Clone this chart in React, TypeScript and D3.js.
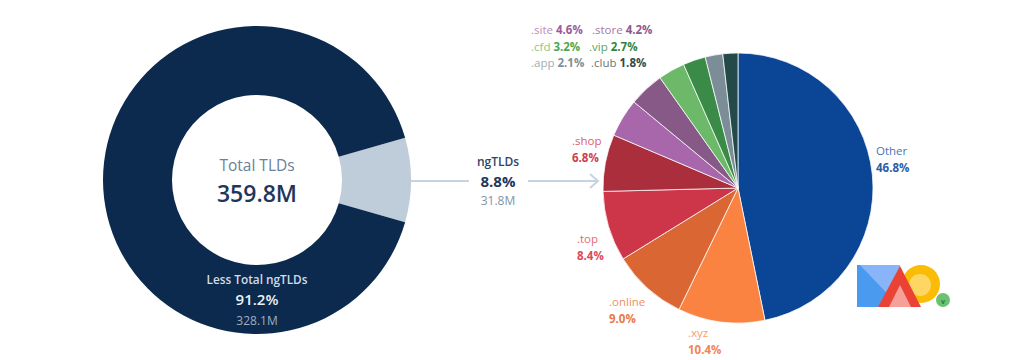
import React from "react";
import * as d3 from "d3";

// ---- Data ----
const totalLabel = "Total TLDs";
const totalValue = "359.8M";
const outerNames = ["ngTLDs", "Less Total ngTLDs"];
const outerValues = [31.8, 328.1];
const outerPercents = ["8.8%", "91.2%"];
const outerValueLabels = ["31.8M", "328.1M"];
const outerColors = ["#bfcdda", "#0c2a4e"];

const tldNames = ["Other", ".xyz", ".online", ".top", ".shop", ".site", ".store", ".cfd", ".vip", ".app", ".club"];
const tldValues = [46.8, 10.4, 9.0, 8.4, 6.8, 4.6, 4.2, 3.2, 2.7, 2.1, 1.8];
const tldColors = ["#0b4595", "#fb8341", "#da6634", "#cd3648", "#ab2e3c", "#a767aa", "#865987", "#6db96a", "#3a8b47", "#7b8d97", "#234a49"];
const tldLabelColors = ["#4a74b8", "#fb9d6c", "#ef9062", "#e36a74", "#d9626a", "#bc8cbd", "#a679a6", "#88c985", "#58a461", "#9eacb5", "#627878"];
const tldPctColors = ["#2c5ca6", "#f7844d", "#e8784a", "#dc4b5a", "#cc3e4b", "#9c5a9e", "#8c5a8c", "#4fa74c", "#2f8440", "#7f8f99", "#2c4c4c"];

// label layout (text positions only)
const pieLabelPos: Record<string, [number, number]> = {
  Other: [876, 150],
  ".xyz": [688, 332],
  ".online": [609, 301],
  ".top": [577, 238],
  ".shop": [572, 140],
};
const legendPos: Record<string, [number, number]> = {
  ".site": [531, 29],
  ".store": [592, 29],
  ".cfd": [531, 46],
  ".vip": [589, 46],
  ".app": [531, 62],
  ".club": [591, 62],
};

const FONT = "'Open Sans', 'Noto Sans', sans-serif";

export default function App() {
  const W = 1024, H = 360;
  // left donut
  const lcx = 257, lcy = 180, lR = 154, lr = 85;
  const total = d3.sum(outerValues);
  const ngFrac = outerValues[0] / total;
  const start = Math.PI / 2 - ngFrac * Math.PI;
  const outerPie = d3.pie<number>().sort(null).value((d) => d).startAngle(start).endAngle(start + 2 * Math.PI);
  const outerArcs = outerPie(outerValues);
  const outerArc = d3.arc<d3.PieArcDatum<number>>().innerRadius(lr).outerRadius(lR);

  // right pie
  const rcx = 738, rcy = 188, rR = 135;
  const pie = d3.pie<number>().sort(null).value((d) => d);
  const arcs = pie(tldValues);
  const arc = d3.arc<d3.PieArcDatum<number>>().innerRadius(0).outerRadius(rR);

  const lineY = 181;

  return (
    <svg width={W} height={H} style={{ display: "block", position: "absolute", left: 0, top: 0, background: "#fff" }} fontFamily={FONT}>
      <rect width={W} height={H} fill="#fff" />
      <g transform={`translate(${lcx},${lcy})`}>
        {outerArcs.map((a, i) => (
          <path key={i} d={outerArc(a) || ""} fill={outerColors[i]} />
        ))}
        <text y={-15} textAnchor="middle" dominantBaseline="central" fontSize={15.5} fill="#6c8098">{totalLabel}</text>
        <text y={13} textAnchor="middle" dominantBaseline="central" fontSize={23} fontWeight={600} fill="#1f375b">{totalValue}</text>
        <text y={99} textAnchor="middle" dominantBaseline="central" fontSize={11.8} fontWeight={600} fill="#d3dbe6">{outerNames[1]}</text>
        <text y={119} textAnchor="middle" dominantBaseline="central" fontSize={15} fontWeight={600} fill="#eef2f7">{outerPercents[1]}</text>
        <text y={140} textAnchor="middle" dominantBaseline="central" fontSize={12} fill="#9cafc5">{outerValueLabels[1]}</text>
      </g>

      {/* connector */}
      <line x1={lcx + lR} x2={469} y1={lineY} y2={lineY} stroke="#c6d4e1" strokeWidth={2} />
      <line x1={528} x2={597} y1={lineY} y2={lineY} stroke="#c6d4e1" strokeWidth={2} />
      <polyline points={`590,174 598,${lineY} 590,188`} fill="none" stroke="#c6d4e1" strokeWidth={2} />
      <text x={498} y={161} textAnchor="middle" dominantBaseline="central" fontSize={12} fontWeight={600} fill="#2d4567">{outerNames[0]}</text>
      <text x={498} y={181} textAnchor="middle" dominantBaseline="central" fontSize={15} fontWeight={700} fill="#1f375b">{outerPercents[0]}</text>
      <text x={498} y={200} textAnchor="middle" dominantBaseline="central" fontSize={12} fill="#8094aa">{outerValueLabels[0]}</text>

      {/* right pie */}
      <g transform={`translate(${rcx},${rcy})`}>
        {arcs.map((a, i) => (
          <path key={i} d={arc(a) || ""} fill={tldColors[i]} stroke="#fff" strokeWidth={1} strokeOpacity={0.75} />
        ))}
      </g>

      {tldNames.map((n, i) => {
        const pct = tldValues[i].toFixed(1) + "%";
        if (pieLabelPos[n]) {
          const [x, y] = pieLabelPos[n];
          return (
            <g key={n}>
              <text x={x} y={y} dominantBaseline="central" fontSize={11.5} fill={tldLabelColors[i]}>{n}</text>
              <text x={x} y={y + 17} dominantBaseline="central" fontSize={11.5} fontWeight={700} fill={tldPctColors[i]}>{pct}</text>
            </g>
          );
        }
        const p = legendPos[n];
        if (!p) return null;
        return (
          <text key={n} x={p[0]} y={p[1]} dominantBaseline="central" fontSize={11.5}>
            <tspan fill={tldLabelColors[i]}>{n}</tspan>
            <tspan dx={3} fill={tldPctColors[i]} fontWeight={700}>{pct}</tspan>
          </text>
        );
      })}

      {/* watermark logo */}
      <g>
        <rect x={857} y={265} width={43} height={42} fill="#4a9af0" />
        <polygon points="860,265 900,265 900,307" fill="#8ab4f8" />
        <circle cx={921} cy={284} r={19} fill="#fbbc05" />
        <circle cx={920} cy={285} r={11} fill="#fdd663" />
        <polygon points="900,266 878,307 921,307" fill="#ea4335" />
        <polygon points="900,285 889,307 911,307" fill="#f6a09a" />
        <circle cx={943} cy={300} r={7} fill="#6cc070" />
        <text x={943} y={301} textAnchor="middle" dominantBaseline="central" fontSize={7} fill="#2d7a35" fontWeight={700}>v</text>
      </g>
    </svg>
  );
}
